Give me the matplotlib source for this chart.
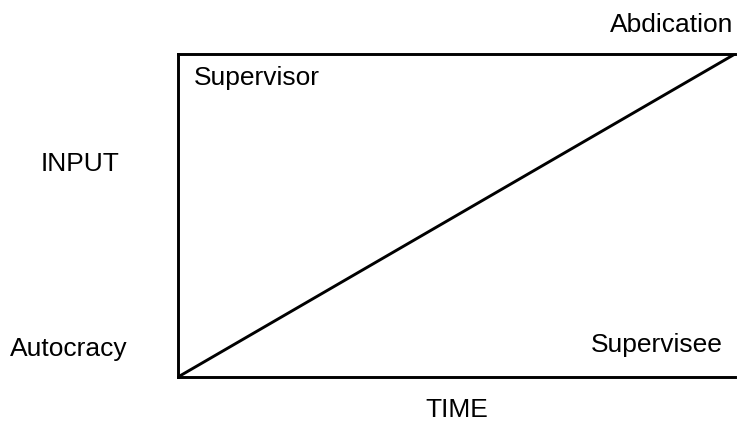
import matplotlib.pyplot as plt

# the diagonal: supervisor input falls off as supervisee input grows
time = [0, 1]
input_share = [0, 1]

# text labels and where they sit (pixel coords in a 737x421 image)
labels = ["Abdication", "Supervisor", "INPUT", "Autocracy", "Supervisee", "TIME"]
label_x = [672, 194, 80, 69, 657, 457]
label_y = [32, 85, 171, 356, 352, 417]
label_ha = ["center", "left", "center", "center", "center", "center"]

W, H = 737, 421
plt.rcParams['font.family'] = ['Liberation Sans', 'DejaVu Sans']

fig = plt.figure(figsize=(W / 100, H / 100), dpi=100)
left, right, top, bottom = 178, 735, 54, 377
ax = fig.add_axes([left / W, (H - bottom) / H, (right - left) / W, (bottom - top) / H])

ax.plot(time, input_share, color='black', linewidth=2.1, solid_capstyle='butt')
ax.set_xlim(0, 1)
ax.set_ylim(0, 1)
ax.set_xticks([])
ax.set_yticks([])
ax.spines['right'].set_visible(False)
for s in ['left', 'top', 'bottom']:
    ax.spines[s].set_linewidth(2.1)

for txt, x, y, ha in zip(labels, label_x, label_y, label_ha):
    fig.text(x / W, 1 - y / H, txt, ha=ha, va='baseline', fontsize=19)

fig.savefig('out.png', dpi=100)
